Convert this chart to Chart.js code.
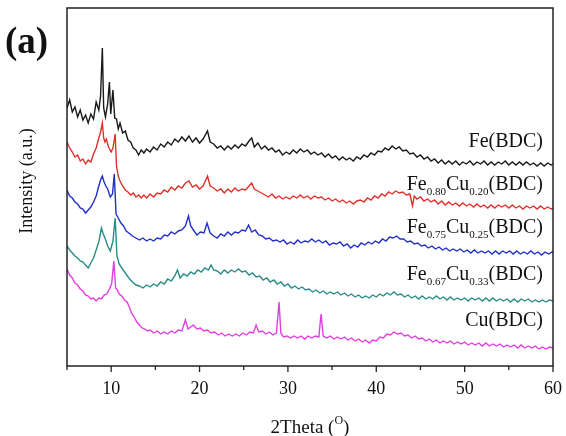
<!DOCTYPE html>
<html>
<head>
<meta charset="utf-8">
<script src="https://cdn.jsdelivr.net/npm/chart.js@4"></script>
<style>
  body { margin: 0; background: #fff; }
  #wrap { width: 566px; height: 436px; }
</style>
</head>
<body>
<div id="wrap"><canvas id="xrdChart" width="566" height="436"></canvas></div>
<script>
// 2Theta (deg) vs intensity (a.u., stacked offsets)
const feBDC = [[5,258],[5.3,266],[5.6,254],[5.9,259],[6.2,249],[6.5,256],[6.8,246],[7.1,251],[7.4,243],[7.7,252],[8.0,247],[8.3,264],[8.6,256],[8.8,270],[9.0,318],[9.15,258],[9.35,249],[9.6,262],[9.8,284],[9.95,252],[10.2,276],[10.4,248],[10.6,247],[10.8,237],[11.0,243],[11.3,233],[11.6,235],[11.9,226],[12.2,224],[12.5,218],[12.8,216],[13.1,211],[13.4,216],[13.7,213],[14.0,217],[14.4,214],[14.8,219],[15.2,216],[15.6,222],[16.0,219],[16.4,224],[16.8,221],[17.2,227],[17.6,224],[18.0,229],[18.4,225],[18.8,230],[19.2,224],[19.6,228],[20.0,223],[20.4,227],[20.9,235],[21.2,224],[21.6,222],[22.0,218],[22.4,220],[22.8,216],[23.2,220],[23.6,217],[24.0,221],[24.4,218],[24.8,222],[25.2,220],[25.6,225],[25.9,228],[26.2,219],[26.6,223],[27.0,217],[27.4,220],[27.8,216],[28.2,218],[28.6,214],[29.0,216],[29.4,211],[29.8,214],[30.2,212],[30.6,216],[31.0,213],[31.4,217],[31.8,214],[32.2,216],[32.6,212],[33.0,214],[33.4,211],[33.8,213],[34.2,209],[34.6,212],[35.0,208],[35.4,210],[35.8,206],[36.2,209],[36.6,206],[37.0,208],[37.4,205],[37.8,209],[38.2,207],[38.6,211],[39.0,209],[39.4,213],[39.8,211],[40.2,215],[40.6,214],[41.0,218],[41.4,216],[41.8,220],[42.2,217],[42.6,219],[43.0,215],[43.4,216],[43.8,212],[44.2,213],[44.6,209],[45.0,211],[45.4,207],[45.8,209],[46.2,205],[46.6,207],[47.0,203],[47.4,206],[47.8,202],[48.2,205],[48.6,202],[49.0,205],[49.4,201],[49.8,204],[50.2,202],[50.6,205],[51.0,201],[51.4,204],[51.8,202],[52.2,205],[52.6,201],[53.0,204],[53.4,201],[53.8,204],[54.2,202],[54.6,205],[55.0,201],[55.4,204],[55.8,201],[56.2,204],[56.6,201],[57.0,204],[57.4,201],[57.8,203],[58.2,200],[58.6,203],[59.0,200],[59.4,203],[59.8,201],[60,202]];

const fe80cu20 = [[5,224],[5.3,218],[5.6,214],[5.9,209],[6.2,211],[6.5,205],[6.8,207],[7.1,202],[7.4,206],[7.7,204],[8.0,212],[8.3,218],[8.6,228],[8.8,234],[9.0,243],[9.15,228],[9.3,224],[9.45,227],[9.7,219],[10.0,214],[10.2,218],[10.45,232],[10.6,200],[10.8,190],[11.0,185],[11.3,180],[11.6,176],[11.9,174],[12.2,171],[12.5,173],[12.8,169],[13.1,171],[13.4,168],[13.7,171],[14.0,168],[14.4,172],[14.8,169],[15.2,173],[15.6,172],[16.0,176],[16.4,174],[16.8,179],[17.2,176],[17.6,180],[18.0,178],[18.4,183],[18.8,185],[19.2,179],[19.6,181],[20.0,177],[20.4,180],[20.9,190],[21.2,180],[21.6,178],[22.0,175],[22.4,177],[22.8,173],[23.2,177],[23.6,174],[24.0,178],[24.4,175],[24.8,177],[25.2,176],[25.6,180],[25.9,183],[26.2,177],[26.6,175],[27.0,173],[27.4,171],[27.8,169],[28.2,172],[28.6,168],[29.0,170],[29.4,167],[29.8,169],[30.2,167],[30.6,170],[31.0,168],[31.4,171],[31.8,168],[32.2,170],[32.6,167],[33.0,170],[33.4,168],[33.8,169],[34.2,166],[34.6,168],[35.0,165],[35.4,167],[35.8,164],[36.2,166],[36.6,163],[37.0,165],[37.4,162],[37.8,165],[38.2,166],[38.6,164],[39.0,168],[39.4,166],[39.8,170],[40.2,168],[40.6,172],[41.0,170],[41.4,174],[41.8,172],[42.2,175],[42.6,173],[43.0,174],[43.4,171],[43.8,172],[44.1,160],[44.3,170],[44.6,167],[45.0,169],[45.4,165],[45.8,167],[46.2,164],[46.6,166],[47.0,162],[47.4,165],[47.8,161],[48.2,164],[48.6,161],[49.0,163],[49.4,160],[49.8,163],[50.2,160],[50.6,162],[51.0,159],[51.4,162],[51.8,159],[52.2,161],[52.6,158],[53.0,161],[53.4,158],[53.8,161],[54.2,159],[54.6,161],[55.0,158],[55.4,161],[55.8,158],[56.2,160],[56.6,157],[57.0,160],[57.4,158],[57.8,160],[58.2,157],[58.6,160],[59.0,157],[59.4,159],[59.8,157],[60,158]];

const fe75cu25 = [[5,176],[5.3,170],[5.6,168],[5.9,164],[6.2,162],[6.5,158],[6.8,157],[7.1,153],[7.4,156],[7.7,159],[8.0,164],[8.3,170],[8.6,180],[8.8,186],[9.0,190],[9.2,184],[9.4,180],[9.6,177],[9.9,169],[10.15,172],[10.35,192],[10.55,152],[10.8,148],[11.1,143],[11.4,140],[11.7,135],[12.0,133],[12.4,130],[12.8,128],[13.2,126],[13.6,128],[14.0,125],[14.4,127],[14.8,125],[15.2,128],[15.6,127],[16.0,131],[16.4,130],[16.8,134],[17.2,132],[17.6,135],[18.0,136],[18.4,140],[18.75,150],[19.0,140],[19.3,136],[19.7,131],[20.1,134],[20.5,133],[20.85,143],[21.2,133],[21.6,130],[22.0,128],[22.4,132],[22.8,130],[23.2,134],[23.6,131],[24.0,134],[24.4,133],[24.8,136],[25.2,135],[25.55,141],[25.9,134],[26.3,136],[26.7,131],[27.1,130],[27.5,127],[27.9,128],[28.3,125],[28.7,126],[29.1,124],[29.5,126],[29.9,122],[30.3,124],[30.7,122],[31.1,126],[31.5,123],[31.9,125],[32.3,124],[32.7,127],[33.1,124],[33.5,126],[33.9,123],[34.3,125],[34.7,121],[35.1,123],[35.5,122],[35.9,124],[36.3,120],[36.7,122],[37.1,118],[37.5,121],[37.9,119],[38.3,123],[38.7,121],[39.1,124],[39.5,122],[39.9,125],[40.3,123],[40.7,127],[41.1,125],[41.5,129],[41.9,128],[42.3,130],[42.7,127],[43.1,127],[43.5,124],[43.9,125],[44.3,122],[44.7,123],[45.1,120],[45.5,121],[45.9,118],[46.3,120],[46.7,117],[47.1,119],[47.5,116],[47.9,118],[48.3,115],[48.7,117],[49.1,115],[49.5,117],[49.9,114],[50.3,116],[50.7,113],[51.1,116],[51.5,113],[51.9,115],[52.3,113],[52.7,115],[53.1,112],[53.5,115],[53.9,112],[54.3,115],[54.7,113],[55.1,115],[55.5,112],[55.9,115],[56.3,112],[56.7,114],[57.1,112],[57.5,115],[57.9,112],[58.3,114],[58.7,111],[59.1,114],[59.5,112],[59.9,114],[60,113]];

const fe67cu33 = [[5,120],[5.3,116],[5.6,113],[5.9,110],[6.2,108],[6.5,105],[6.8,104],[7.1,101],[7.4,98],[7.7,103],[8.0,108],[8.3,116],[8.6,124],[8.9,138],[9.1,132],[9.3,128],[9.6,120],[9.9,115],[10.2,125],[10.45,148],[10.65,110],[10.9,102],[11.2,98],[11.6,93],[12.0,88],[12.4,84],[12.8,81],[13.2,80],[13.6,78],[14.0,81],[14.4,79],[14.8,82],[15.2,80],[15.6,84],[16.0,82],[16.4,87],[16.8,85],[17.2,90],[17.5,96],[17.8,88],[18.2,92],[18.6,90],[19.0,94],[19.4,92],[19.8,96],[20.2,94],[20.6,98],[21.0,96],[21.3,101],[21.6,96],[22.0,95],[22.4,92],[22.8,96],[23.2,93],[23.6,96],[24.0,94],[24.4,97],[24.8,94],[25.2,95],[25.6,91],[26.0,93],[26.4,89],[26.8,90],[27.2,86],[27.6,88],[28.0,84],[28.4,86],[28.8,82],[29.2,84],[29.6,80],[30.0,82],[30.4,78],[30.8,80],[31.2,77],[31.6,79],[32.0,76],[32.4,77],[32.8,74],[33.2,76],[33.6,73],[34.0,75],[34.4,72],[34.8,74],[35.2,72],[35.6,74],[36.0,71],[36.4,73],[36.8,70],[37.2,72],[37.6,69],[38.0,71],[38.4,68],[38.8,70],[39.2,68],[39.6,71],[40.0,69],[40.4,72],[40.8,70],[41.2,73],[41.6,71],[42.0,74],[42.4,71],[42.8,72],[43.2,69],[43.6,71],[44.0,68],[44.4,70],[44.8,67],[45.2,70],[45.6,67],[46.0,69],[46.4,67],[46.8,70],[47.2,67],[47.6,69],[48.0,66],[48.4,69],[48.8,66],[49.2,68],[49.6,66],[50.0,68],[50.4,65],[50.8,68],[51.2,66],[51.6,68],[52.0,65],[52.4,68],[52.8,65],[53.2,68],[53.6,65],[54.0,67],[54.4,65],[54.8,67],[55.2,64],[55.6,67],[56.0,64],[56.4,67],[56.8,65],[57.2,67],[57.6,64],[58.0,66],[58.4,64],[58.8,66],[59.2,64],[59.6,66],[60,65]];

const cuBDC = [[5,97],[5.3,91],[5.6,88],[5.9,83],[6.2,81],[6.5,77],[6.8,75],[7.1,71],[7.4,70],[7.7,67],[8.0,68],[8.3,65],[8.6,68],[8.9,67],[9.2,71],[9.5,72],[9.8,77],[10.05,82],[10.3,105],[10.5,78],[10.7,76],[10.9,72],[11.2,70],[11.5,66],[11.8,64],[12.0,60],[12.3,53],[12.6,49],[12.9,44],[13.2,41],[13.5,38],[13.8,37],[14.1,35],[14.4,36],[14.8,33],[15.2,35],[15.6,32],[16.0,34],[16.4,32],[16.8,35],[17.2,33],[17.6,36],[18.0,35],[18.4,46],[18.7,37],[19.0,39],[19.3,41],[19.7,37],[20.1,38],[20.5,35],[20.9,36],[21.3,33],[21.7,34],[22.1,31],[22.5,33],[22.9,30],[23.3,32],[23.7,30],[24.1,32],[24.5,30],[24.9,33],[25.3,31],[25.7,34],[26.1,33],[26.4,41],[26.7,34],[27.1,35],[27.5,32],[27.9,34],[28.3,31],[28.7,33],[29.0,64],[29.2,33],[29.5,29],[29.9,30],[30.3,28],[30.7,30],[31.1,28],[31.5,30],[31.9,27],[32.3,30],[32.7,28],[33.1,30],[33.5,29],[33.75,52],[34.0,30],[34.4,28],[34.8,30],[35.2,27],[35.6,29],[36.0,27],[36.4,29],[36.8,26],[37.2,28],[37.6,25],[38.0,27],[38.4,24],[38.8,26],[39.2,23],[39.6,26],[40.0,25],[40.4,29],[40.8,28],[41.2,32],[41.6,31],[42.0,34],[42.4,32],[42.8,33],[43.2,30],[43.6,31],[44.0,28],[44.4,30],[44.8,27],[45.2,28],[45.6,25],[46.0,27],[46.4,24],[46.8,26],[47.2,23],[47.6,25],[48.0,23],[48.4,25],[48.8,22],[49.2,24],[49.6,22],[50.0,24],[50.4,21],[50.8,23],[51.2,21],[51.6,23],[52.0,20],[52.4,23],[52.8,20],[53.2,22],[53.6,20],[54.0,22],[54.4,19],[54.8,21],[55.2,19],[55.6,21],[56.0,18],[56.4,21],[56.8,18],[57.2,20],[57.6,18],[58.0,20],[58.4,17],[58.8,19],[59.2,17],[59.6,19],[60,18]];

// sample names: [text, isSubscript]
const sampleNames = [
    [['Fe', 0], ['(BDC)', 0]],
    [['Fe', 0], ['0.80', 1], ['Cu', 0], ['0.20', 1], ['(BDC)', 0]],
    [['Fe', 0], ['0.75', 1], ['Cu', 0], ['0.25', 1], ['(BDC)', 0]],
    [['Fe', 0], ['0.67', 1], ['Cu', 0], ['0.33', 1], ['(BDC)', 0]],
    [['Cu', 0], ['(BDC)', 0]]
];
const seriesColors = ['#1a1a1a', '#e0312b', '#2030c8', '#2a8c86', '#e23ee0'];
const allSeries = [feBDC, fe80cu20, fe75cu25, fe67cu33, cuBDC];

const SERIF = "'Liberation Serif', 'Times New Roman', serif";

const toXY = (arr) => arr.map(p => ({ x: p[0], y: p[1] }));

const decorPlugin = {
    id: 'decor',
    afterDraw(chart) {
        const ctx = chart.ctx;
        const area = chart.chartArea;
        const xs = chart.scales.x;
        ctx.save();
        // frame
        ctx.strokeStyle = '#222';
        ctx.lineWidth = 1.5;
        ctx.strokeRect(area.left, area.top, area.right - area.left, area.bottom - area.top);
        // ticks below the x axis, short ones for the 5s
        ctx.lineWidth = 1.3;
        xs.ticks.forEach(t => {
            const px = xs.getPixelForValue(t.value);
            const len = (t.value % 10 === 0) ? 6 : 4;
            ctx.beginPath();
            ctx.moveTo(px, area.bottom);
            ctx.lineTo(px, area.bottom + len);
            ctx.stroke();
        });

        ctx.fillStyle = '#111';
        // sample labels, right aligned
        const baselines = [147, 190, 233, 280, 326];
        const rightEdge = 543;
        sampleNames.forEach((parts, i) => {
            let total = 0;
            parts.forEach(([txt, sub]) => {
                ctx.font = (sub ? '11px ' : '20px ') + SERIF;
                total += ctx.measureText(txt).width;
            });
            let x = rightEdge - total;
            parts.forEach(([txt, sub]) => {
                ctx.font = (sub ? '11px ' : '20px ') + SERIF;
                ctx.fillText(txt, x, baselines[i] + (sub ? 5 : 0));
                x += ctx.measureText(txt).width;
            });
        });

        // x title with superscript degree
        const a = '2Theta (', b = ')';
        ctx.font = '19px ' + SERIF;
        const wa = ctx.measureText(a).width;
        const wb = ctx.measureText(b).width;
        ctx.font = '12px ' + SERIF;
        const wo = ctx.measureText('O').width;
        let tx = (area.left + area.right) / 2 - (wa + wo + wb) / 2;
        const ty = 433;
        ctx.font = '19px ' + SERIF;
        ctx.fillText(a, tx, ty);
        ctx.font = '12px ' + SERIF;
        ctx.fillText('O', tx + wa, ty - 9);
        ctx.font = '19px ' + SERIF;
        ctx.fillText(b, tx + wa + wo, ty);

        // y title
        ctx.save();
        ctx.translate(27, (area.top + area.bottom) / 2 - 6);
        ctx.rotate(-Math.PI / 2);
        ctx.textAlign = 'center';
        ctx.textBaseline = 'middle';
        ctx.font = '18px ' + SERIF;
        ctx.fillText('Intensity (a.u.)', 0, 0);
        ctx.restore();

        // panel letter
        ctx.font = 'bold 37px ' + SERIF;
        ctx.fillText('(a)', 5, 53);
        ctx.restore();
    }
};

new Chart(document.getElementById('xrdChart'), {
    type: 'line',
    data: {
        datasets: allSeries.map((s, i) => ({
            data: toXY(s),
            borderColor: seriesColors[i],
            borderWidth: 1.4,
            pointRadius: 0,
            tension: 0,
            fill: false
        }))
    },
    options: {
        responsive: false,
        animation: false,
        layout: { padding: { top: 8, right: 13, left: 0, bottom: 0 } },
        plugins: {
            legend: { display: false },
            tooltip: { enabled: false }
        },
        scales: {
            x: {
                type: 'linear',
                min: 5,
                max: 60,
                ticks: {
                    stepSize: 5,
                    autoSkip: false,
                    maxRotation: 0,
                    padding: 12,
                    color: '#111',
                    font: { family: SERIF, size: 18 },
                    callback: (v) => (v % 10 === 0 ? v : '')
                },
                grid: { drawOnChartArea: false, drawTicks: false },
                border: { display: false },
                afterFit: (s) => {
                    s.height = 70;
                    // let the layout padding alone decide the plot's right edge
                    s.paddingLeft = 0;
                    s.paddingRight = 0;
                }
            },
            y: {
                min: 0,
                max: 358,
                ticks: { display: false },
                grid: { display: false },
                border: { display: false },
                afterFit: (s) => { s.width = 67; }
            }
        }
    },
    plugins: [decorPlugin]
});
</script>
</body>
</html>
